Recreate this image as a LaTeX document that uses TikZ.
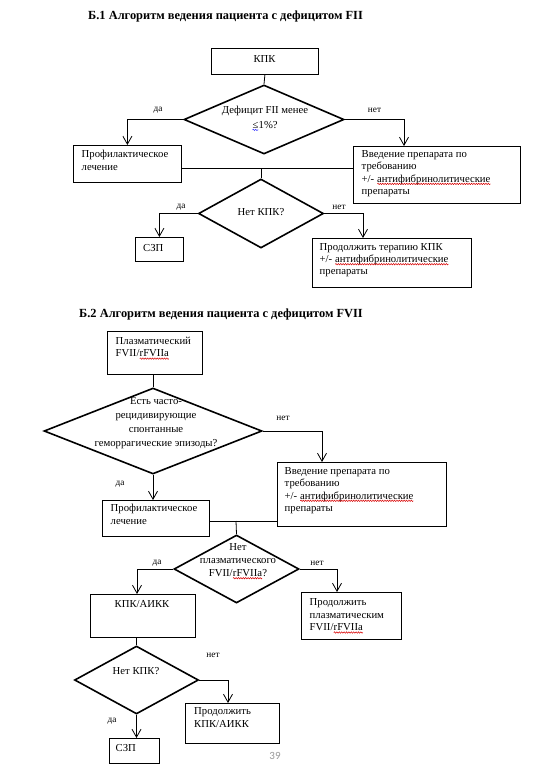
\documentclass[tikz,border=0pt]{standalone}
\usepackage{fontspec}
\setmainfont{Liberation Serif}
\newfontfamily\pagefont{Carlito}
\usetikzlibrary{shapes.geometric,arrows.meta,calc,decorations.pathmorphing}
\newcommand\wavy[2]{\tikz[baseline=(w.base),x=1pt,y=1pt]{\node[inner sep=0pt, outer sep=0pt, anchor=base west](w) at (0,0) {#2}; \draw[#1, line width=0.5pt, decorate, decoration={snake, amplitude=0.7pt, segment length=2.4pt}] ([yshift=-1.8pt]w.base west) -- ([yshift=-1.8pt]w.base east);}}
\newcommand\redwave[1]{\wavy{red!85!black}{#1}}
\newcommand\bluewave[1]{\wavy{blue!80}{#1}}
\newcommand\fs[1]{\fontsize{10.7}{#1}\selectfont}
\begin{document}
\begin{tikzpicture}[x=1pt,y=-1pt,
  box/.style={draw, line width=0.8pt, rectangle, inner sep=0, anchor=north west},
  dia/.style={draw, line width=1.6pt, diamond, inner sep=0, line join=miter},
  txt/.style={inner sep=0, anchor=north west, align=left, font=\fs{12.3}, execute at begin node=\strut},
  ctxt/.style={inner sep=0, anchor=north, align=center, font=\fs{12.3}, execute at begin node=\strut},
  lbl/.style={inner sep=0, font=\fontsize{9.3}{10}\selectfont},
  conn/.style={line width=0.8pt},
  arr/.style={line width=0.8pt, -{Straight Barb[length=8pt,width=9pt]}},
  ttl/.style={inner sep=0, anchor=west, font=\bfseries\fontsize{12.4}{14}\selectfont},
]
\useasboundingbox[fill=white] (0,0) rectangle (551,771);

% ---------- B.1 ----------
\node[ttl] (t1) at (88,17) {Б.1 Алгоритм ведения пациента с дефицитом FII};

\node[box, minimum width=107, minimum height=26] (kpk1) at (211,48) {};
\node[ctxt] (kpk1t) at (264.5,53.4) {КПК};

\node[dia, minimum width=160, minimum height=69] (d1) at (264,119.5) {};
\node[ctxt, font=\fs{15}] (d1t) at (265,105.5) {Дефицит FII менее\\\bluewave{≤}1\%?};

\node[box, minimum width=108, minimum height=37] (prof1) at (73,145) {};
\node[txt, font=\fs{13.3}] (prof1t) at (81.5,149.7) {Профилактическое\\лечение};

\node[box, minimum width=167, minimum height=57] (ved1) at (353,146) {};
\node[txt, font=\fs{12.2}] (ved1t) at (361.5,150.5) {Введение препарата по\\требованию\\+/- \redwave{антифибринолитические}\\препараты};

\coordinate (m1) at (261,168);
\node[dia, minimum width=125, minimum height=69] (d2) at (261,213.5) {};
\node[ctxt] (d2t) at (261,206.4) {Нет КПК?};

\node[box, minimum width=48, minimum height=24] (szp1) at (135,237) {};
\node[txt] (szp1t) at (143,242.4) {СЗП};

\node[box, minimum width=159, minimum height=49] (cont1) at (312,238) {};
\node[txt, font=\fs{12.4}] (cont1t) at (319.5,242.8) {Продолжить терапию КПК\\+/- \redwave{антифибринолитические}\\препараты};

\draw[conn] (kpk1.south) -- (d1.north);
\draw[arr] (d1.west) -| (prof1.north);
\draw[arr] (d1.east) -| ([xshift=51pt]ved1.north west);
\draw[conn] (prof1.east |- m1) -- (ved1.west |- m1);
\draw[conn] (m1) -- (d2.north);
\draw[arr] (d2.west) -| (szp1.north);
\draw[arr] (d2.east) -| ([xshift=51pt]cont1.north west);

\node[lbl] (l1) at (158,110) {да};
\node[lbl] (l2) at (374.5,110.5) {нет};
\node[lbl] (l3) at (181,207.5) {да};
\node[lbl] (l4) at (339,207.5) {нет};

% ---------- B.2 ----------
\node[ttl] (t2) at (79,315) {Б.2 Алгоритм ведения пациента с дефицитом FVII};

\node[box, minimum width=95, minimum height=43] (plasma) at (107,331) {};
\node[txt, font=\fs{12.5}] (plasmat) at (115.5,336.8) {Плазматический\\FVII/\redwave{rFVIIa}};

\node[dia, minimum width=218, minimum height=86] (d3) at (153,431) {};
\node[ctxt, font=\fs{13.7}] (d3t) at (156,397.7) {Есть часто-\\рецидивирующие\\спонтанные\\геморрагические эпизоды?};

\node[box, minimum width=169, minimum height=64] (ved2) at (277,462) {};
\node[txt, font=\fs{12.5}] (ved2t) at (284.5,466.8) {Введение препарата по\\требованию\\+/- \redwave{антифибринолитические}\\препараты};

\node[box, minimum width=107, minimum height=36] (prof2) at (102,500) {};
\node[txt, font=\fs{13}] (prof2t) at (110.5,503.4) {Профилактическое\\лечение};

\coordinate (m2) at (236,521);
\node[dia, minimum width=125, minimum height=68] (d4) at (236.5,569) {};
\node[ctxt, font=\fs{13}] (d4t) at (238,543.2) {Нет\\плазматического\\FVII/\redwave{rFVIIa}?};

\node[box, minimum width=105, minimum height=43] (kpkaikk) at (90,594) {};
\node[ctxt] (kpkaikkt) at (142,598.9) {КПК/АИКК};

\node[box, minimum width=100, minimum height=47] (contplas) at (301,592) {};
\node[txt, font=\fs{12.7}] (contplast) at (309.5,598.1) {Продолжить\\плазматическим\\FVII/\redwave{rFVIIa}};

\node[dia, minimum width=124, minimum height=68] (d5) at (136.5,680) {};
\node[ctxt] (d5t) at (136,665.9) {Нет КПК?};

\node[box, minimum width=94, minimum height=40] (contkpk) at (185,703) {};
\node[txt, font=\fs{12.4}] (contkpkt) at (194,707.6) {Продолжить\\КПК/АИКК};

\node[box, minimum width=50, minimum height=25] (szp2) at (109,738) {};
\node[txt] (szp2t) at (115.5,742.7) {СЗП};

\draw[conn] (d3.north |- plasma.south) -- (d3.north);
\draw[arr] (d3.east) -| ([xshift=45pt]ved2.north west);
\draw[arr] (d3.south) -- (d3.south |- prof2.north);
\draw[conn] (prof2.east |- m2) -- (ved2.west |- m2);
\draw[conn] (m2) -- (d4.north);
\draw[arr] (d4.west) -| ([xshift=47pt]kpkaikk.north west);
\draw[arr] (d4.east) -| ([xshift=36pt]contplas.north west);
\draw[conn] (d5.north |- kpkaikk.south) -- (d5.north);
\draw[arr] (d5.east) -| ([xshift=43pt]contkpk.north west);
\draw[arr] (d5.south) -- (d5.south |- szp2.north);

\node[lbl] (l5) at (283,418.5) {нет};
\node[lbl] (l6) at (120,484.5) {да};
\node[lbl] (l7) at (157,563.5) {да};
\node[lbl] (l8) at (317,563.5) {нет};
\node[lbl] (l9) at (213,655.5) {нет};
\node[lbl] (l10) at (112,721) {да};

\node[inner sep=0, font=\pagefont\fontsize{11}{12}\selectfont, text=gray!80] (pg) at (275,756) {39};
\end{tikzpicture}
\end{document}
